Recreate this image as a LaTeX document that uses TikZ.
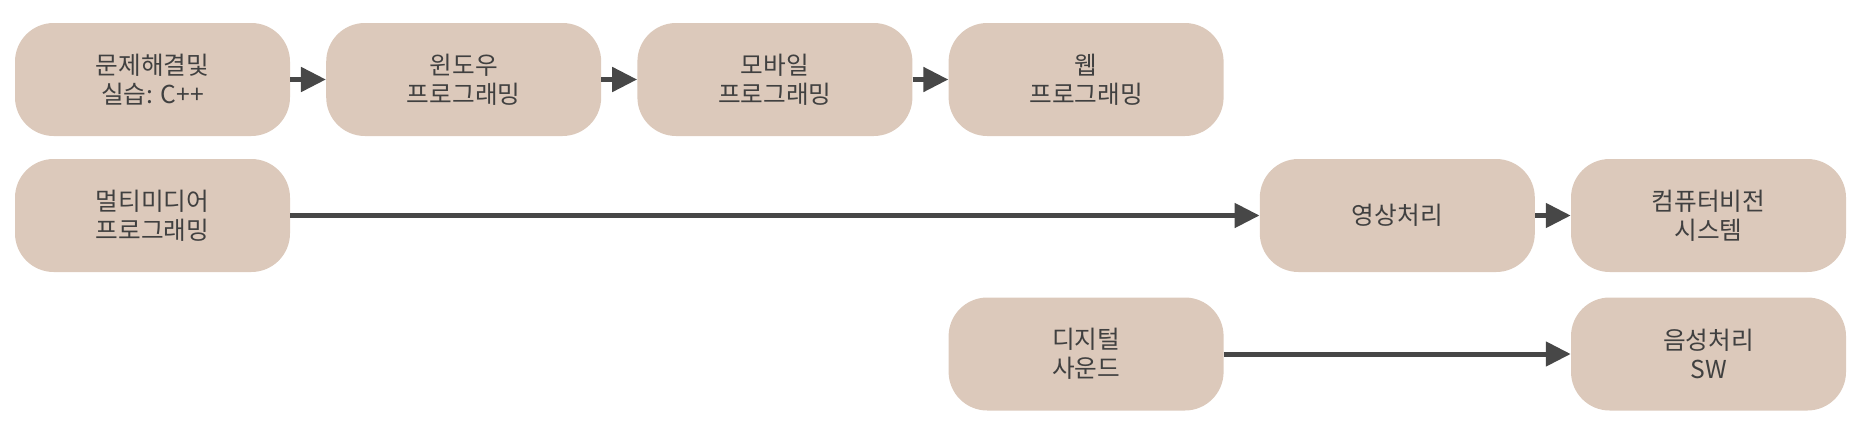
\documentclass[tikz,border=0pt]{standalone}
\usepackage{fontspec}
\setmainfont{Noto Sans CJK KR}
\usetikzlibrary{arrows.meta}
\definecolor{boxfill}{HTML}{DCC9BB}
\definecolor{inkgray}{HTML}{404040}
\definecolor{arrowgray}{HTML}{474747}
\tikzset{
  course/.style={rectangle, rounded corners=29pt, fill=boxfill, draw=none,
    minimum width=206.25pt, minimum height=84.75pt, inner sep=0pt,
    align=center, text=inkgray,
    font=\fontsize{18.5pt}{22pt}\selectfont},
  flow/.style={draw=arrowgray, line width=3.75pt,
    -{Triangle[length=18.75pt, width=18pt]}}
}
\begin{document}
\begin{tikzpicture}[x=0.75pt, y=-0.75pt]
\useasboundingbox (0,0) rectangle (1870,436);
% column centres: 152.5 + 311.2 i ; row centres: 79.5, 215.5, 354
\node[course] (c11) at (152.5,79.5) {문제해결및\\실습: C++};
\node[course] (c12) at (463.7,79.5) {윈도우\\프로그래밍};
\node[course] (c13) at (774.9,79.5) {모바일\\프로그래밍};
\node[course] (c14) at (1086.1,79.5) {웹\\프로그래밍};
\node[course] (c21) at (152.5,215.5) {멀티미디어\\프로그래밍};
\node[course] (c25) at (1397.3,215.5) {영상처리};
\node[course] (c26) at (1708.5,215.5) {컴퓨터비전\\시스템};
\node[course] (c34) at (1086.1,354) {디지털\\사운드};
\node[course] (c36) at (1708.5,354) {음성처리\\SW};
\draw[flow] (c11) -- (c12);
\draw[flow] (c12) -- (c13);
\draw[flow] (c13) -- (c14);
\draw[flow] (c21) -- (c25);
\draw[flow] (c25) -- (c26);
\draw[flow] (c34) -- (c36);
\end{tikzpicture}
\end{document}
